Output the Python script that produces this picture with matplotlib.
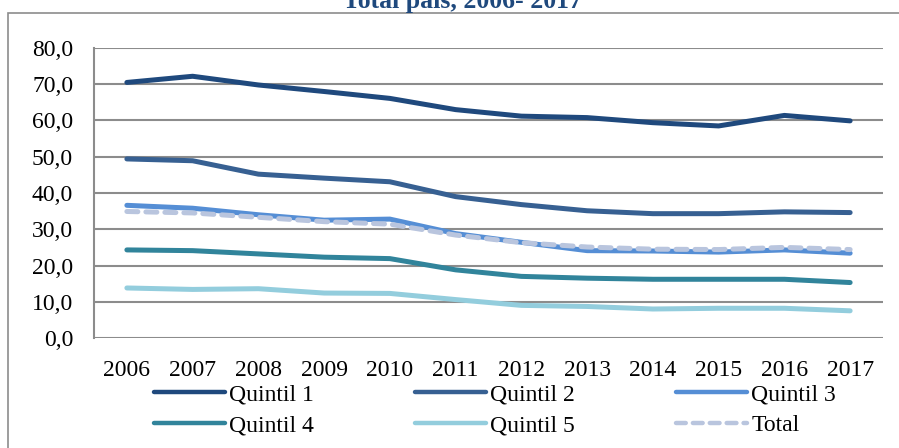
import matplotlib.pyplot as plt
from matplotlib.patches import Rectangle

plt.rcParams['font.family'] = ['Liberation Serif', 'DejaVu Serif']

years = ['2006', '2007', '2008', '2009', '2010', '2011',
         '2012', '2013', '2014', '2015', '2016', '2017']
quintil1 = [70.5, 72.2, 69.8, 68.0, 66.1, 63.0, 61.2, 60.8, 59.4, 58.5, 61.4, 59.9]
quintil2 = [49.4, 48.9, 45.2, 44.1, 43.1, 39.0, 36.8, 35.1, 34.3, 34.3, 34.8, 34.6]
quintil3 = [36.6, 35.8, 34.0, 32.5, 32.8, 28.8, 26.4, 24.1, 24.0, 23.7, 24.3, 23.4]
quintil4 = [24.3, 24.1, 23.2, 22.3, 21.9, 18.8, 17.0, 16.5, 16.2, 16.2, 16.2, 15.3]
quintil5 = [13.8, 13.4, 13.6, 12.4, 12.3, 10.6, 9.0, 8.7, 8.0, 8.2, 8.2, 7.5]
total = [34.9, 34.5, 33.3, 32.1, 31.4, 28.4, 26.3, 25.1, 24.5, 24.4, 25.0, 24.4]

fig = plt.figure(figsize=(8.99, 4.48), dpi=100)

# outer chart frame (runs past the image edges)
fig.patches.append(Rectangle((8 / 899, -0.1), 1.2, 1.1 - 13 / 448,
                             transform=fig.transFigure, fill=False,
                             edgecolor='#8c8c8c', linewidth=1.2))

fig.text(462 / 899, 1 - 8 / 448, 'Total país, 2006- 2017', ha='center',
         va='baseline', fontsize=18.5, fontweight='bold', color='#1f497d')

ax = fig.add_axes([94 / 899, 1 - 338 / 448, 789 / 899, 290 / 448])
x = list(range(len(years)))

ax.plot(x, quintil1, color='#1f497d', lw=3.6, label='Quintil 1', solid_capstyle='round')
ax.plot(x, quintil2, color='#376092', lw=3.6, label='Quintil 2', solid_capstyle='round')
ax.plot(x, quintil3, color='#558ed5', lw=3.6, label='Quintil 3', solid_capstyle='round')
ax.plot(x, quintil4, color='#31849b', lw=3.6, label='Quintil 4', solid_capstyle='round')
ax.plot(x, quintil5, color='#93cddd', lw=3.6, label='Quintil 5', solid_capstyle='round')
ax.plot(x, total, color='#b9c5de', lw=3.6, label='Total', dashes=(2.2, 1.6),
        dash_capstyle='round')

ax.set_xlim(-0.5, len(years) - 0.5)
ax.set_ylim(0, 80)
ax.set_yticks(range(0, 81, 10))
ax.set_yticklabels([f'{v},0' for v in range(0, 81, 10)])
ax.set_xticks(x)
ax.set_xticklabels(years)
ax.tick_params(axis='both', length=0, labelsize=17, colors='black')
ax.tick_params(axis='y', pad=15)
ax.tick_params(axis='x', pad=16)
ax.grid(axis='y', color='#8c8c8c', lw=1.5)
ax.set_axisbelow(True)
for s in ['top', 'right', 'bottom']:
    ax.spines[s].set_visible(False)
ax.spines['left'].set_color('#8c8c8c')
ax.spines['left'].set_linewidth(1.5)

h, l = ax.get_legend_handles_labels()
order = [0, 3, 1, 4, 2, 5]
leg = fig.legend([h[i] for i in order], [l[i] for i in order], ncol=3,
                 loc='upper left', bbox_to_anchor=(154 / 899, 1 - 384 / 448),
                 frameon=False, fontsize=17, handlelength=3.0, handletextpad=0.17,
                 columnspacing=4.3, labelspacing=0.38, borderpad=0, borderaxespad=0)
for line in leg.get_lines():
    line.set_linewidth(3.2)

fig.savefig('out.png', dpi=100)
